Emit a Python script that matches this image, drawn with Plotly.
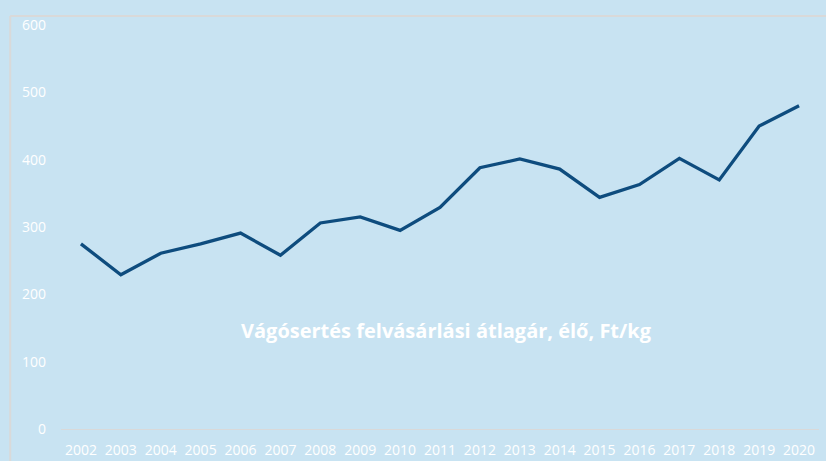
import plotly.graph_objects as go

years = [str(y) for y in range(2002, 2021)]
prices = [275, 229, 261, 275, 291, 258, 306, 315, 295, 329, 388, 401, 386, 344, 363, 402, 370, 450, 480]
y_ticks = [0, 100, 200, 300, 400, 500, 600]
title_text = "Vágósertés felvásárlási átlagár, élő, Ft/kg"

bg = "#C8E3F2"
fig = go.Figure()
fig.add_trace(go.Scatter(x=years, y=prices, mode="lines",
                         line=dict(color="#0E4C7E", width=3.3), showlegend=False))

fig.update_layout(
    width=826, height=461,
    paper_bgcolor=bg, plot_bgcolor=bg,
    margin=dict(l=61, r=7, t=25, b=32),
    font=dict(family="Open Sans", color="white", size=14),
    xaxis=dict(type="category", range=[-0.5, 18.5], showgrid=False, ticks="",
               showline=True, linecolor="#D9D9D9", linewidth=1, automargin=False,
               ticklabelstandoff=8, tickfont=dict(size=14, color="white")),
    yaxis=dict(range=[0, 600], tickvals=y_ticks, showgrid=False, zeroline=False,
               ticks="", showline=False, ticklabelstandoff=14, automargin=False,
               tickfont=dict(size=14, color="white")),
    shapes=[
        dict(type="line", xref="paper", yref="paper", x0=-0.067, x1=-0.067, y0=-0.1, y1=1.022,
             line=dict(color="#D9D9D9", width=2)),
        dict(type="line", xref="paper", yref="paper", x0=-0.067, x1=1.02, y0=1.022, y1=1.022,
             line=dict(color="#D9D9D9", width=2)),
    ],
    annotations=[dict(text="<b>" + title_text + "</b>", xref="paper", yref="paper",
                      x=0.509, y=0.245, xanchor="center", yanchor="middle", showarrow=False,
                      font=dict(family="Open Sans", size=20, color="white"))],
)

fig.write_html("out.html", config={"displayModeBar": False},
               post_script="document.body.style.margin='0';document.body.style.overflow='hidden';document.body.style.background='" + bg + "';")
